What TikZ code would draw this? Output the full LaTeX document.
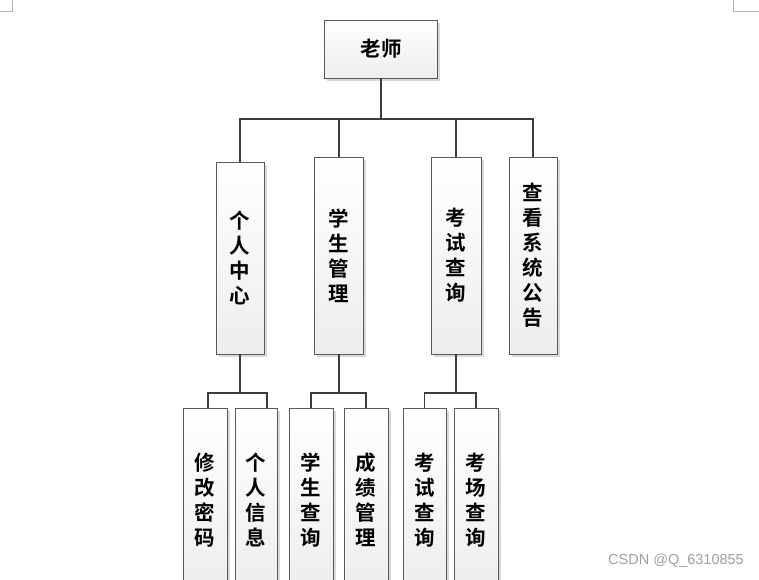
\documentclass[tikz,border=0pt]{standalone}
\usepackage{fontspec}
\setmainfont{Liberation Sans}
\newfontfamily\cjk{Noto Sans CJK SC}[BoldFont={Noto Sans CJK SC Bold}]
\usetikzlibrary{shadows}
\definecolor{linegray}{HTML}{3C3C3C}
\definecolor{boxedge}{HTML}{5A5A5A}
\definecolor{markgray}{HTML}{B4B4B4}
\definecolor{wmgray}{HTML}{A0A0A0}
\tikzset{
  box/.style={draw=boxedge, line width=0.9pt, inner sep=0pt, align=center,
    top color=white, bottom color=black!7,
    drop shadow={shadow xshift=2.5pt, shadow yshift=-2.5pt, fill=black!15, opacity=1},
    font=\cjk\bfseries\fontsize{20.5}{25}\selectfont},
  conn/.style={draw=linegray, line width=1.3pt},
  pagemark/.style={draw=markgray, line width=0.8pt},
}
\begin{document}
\begin{tikzpicture}[x=1pt,y=-1pt]
\useasboundingbox (0,0) rectangle (759,579);
\clip (0,0) rectangle (759,579);
\fill[white] (0,0) rectangle (759,579);
% page corner marks
\draw[pagemark] (12,0) -- (12,11) -- (0,11);
\draw[pagemark] (733,0) -- (733,11) -- (759,11);
% root
\node[box, minimum width=113pt, minimum height=58pt] (root) at (381,49) {老师};
% level 2
\node[box, minimum width=48pt, minimum height=192pt] (a) at (240,258) {个\\人\\中\\心};
\node[box, minimum width=49pt, minimum height=197pt] (b) at (339,255.5) {学\\生\\管\\理};
\node[box, minimum width=50pt, minimum height=197pt] (c) at (456,255.5) {考\\试\\查\\询};
\node[box, minimum width=48pt, minimum height=197pt] (d) at (533,255.5) {查\\看\\系\\统\\公\\告};
% level 3
\node[box, minimum width=44pt, minimum height=184pt] (a1) at (205,500) {修\\改\\密\\码};
\node[box, minimum width=42pt, minimum height=184pt] (a2) at (256,500) {个\\人\\信\\息};
\node[box, minimum width=44pt, minimum height=184pt] (b1) at (311,500) {学\\生\\查\\询};
\node[box, minimum width=44pt, minimum height=184pt] (b2) at (366,500) {成\\绩\\管\\理};
\node[box, minimum width=43pt, minimum height=184pt] (c1) at (424.5,500) {考\\试\\查\\询};
\node[box, minimum width=44pt, minimum height=184pt] (c2) at (476,500) {考\\场\\查\\询};
% buses
\coordinate (bus) at (0,119);
\coordinate (busl) at (0,393);
% connectors level 1 -> 2
\draw[conn] (root.south) -- (root.south |- bus);
\draw[conn] (a.north) -- (a.north |- bus) -- (d.north |- bus) -- (d.north);
\draw[conn] (b.north) -- (b.north |- bus);
\draw[conn] (c.north) -- (c.north |- bus);
% connectors level 2 -> 3
\draw[conn] (a.south) -- (a.south |- busl);
\draw[conn] ([xshift=3pt]a1.north) -- ([xshift=3pt]a1.north |- busl) -- ([xshift=11pt]a2.north |- busl) -- ([xshift=11pt]a2.north);
\draw[conn] (b.south) -- (b.south |- busl);
\draw[conn] (b1.north) -- (b1.north |- busl) -- (b2.north |- busl) -- (b2.north);
\draw[conn] (c.south) -- (c.south |- busl);
\draw[conn] (c1.north) -- (c1.north |- busl) -- (c2.north |- busl) -- (c2.north);
% watermark
\node[text=wmgray, font=\fontsize{14.5}{16}\selectfont, inner sep=0pt] (wm) at (676,561) {CSDN @Q\_6310855};
\end{tikzpicture}
\end{document}
